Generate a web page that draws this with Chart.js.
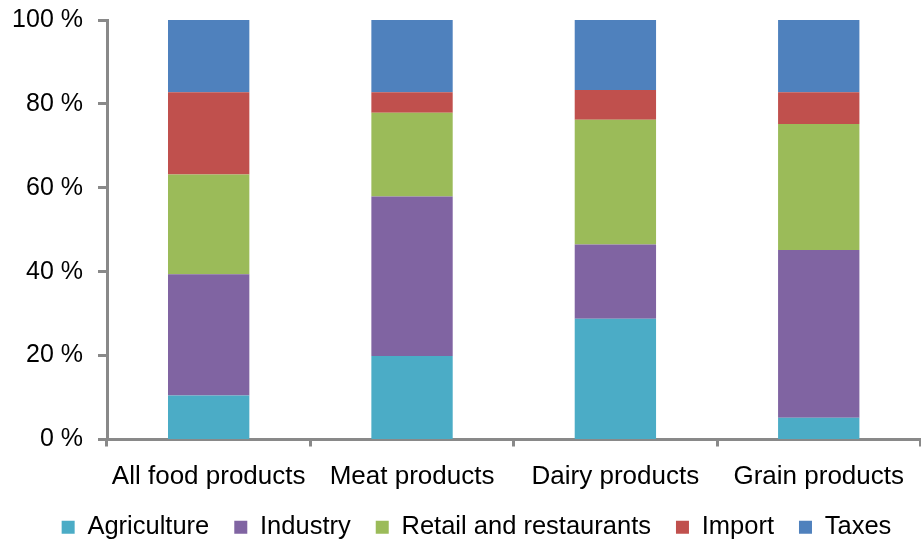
<!DOCTYPE html>
<html>
<head>
<meta charset="utf-8">
<script src="https://cdn.jsdelivr.net/npm/chart.js@4"></script>
<style>
  html, body { margin: 0; padding: 0; background: #fff; }
  #wrap { width: 921px; height: 546px; position: relative; }
</style>
</head>
<body>
<div id="wrap"><canvas id="costChart"></canvas></div>
<script>
// share of consumer price by link in the chain, percent
const categories = ["All food products", "Meat products", "Dairy products", "Grain products"];
const agriculture = [10.5, 19.9, 28.8, 5.2];
const industry = [28.9, 38.0, 17.7, 40.0];
const retail = [23.8, 20.0, 29.7, 30.0];
const importShare = [19.6, 4.9, 7.1, 7.6];
const taxes = [17.2, 17.2, 16.7, 17.2];
const yTicks = [0, 20, 40, 60, 80, 100];

const axisGrey = "#898989";
const family = "'Liberation Sans', Arial, sans-serif";
const font = { family: family, size: 25 };
const xFont = { family: family, size: 26, lineHeight: 1 };
const legendFont = { family: family, size: 25.5, lineHeight: 1 };

const series = [
  { label: "Agriculture", data: agriculture, color: "#4BACC6" },
  { label: "Industry", data: industry, color: "#8064A2" },
  { label: "Retail and restaurants", data: retail, color: "#9BBB59" },
  { label: "Import", data: importShare, color: "#C0504D" },
  { label: "Taxes", data: taxes, color: "#4F81BD" }
];

// nudge the legend row a little right of centre
const legendShift = {
  id: "legendShift",
  afterLayout(chart) {
    if (chart.legend) {
      chart.legend.left += 16;
      chart.legend.right += 16;
    }
  }
};

new Chart(document.getElementById("costChart"), {
  type: "bar",
  data: {
    labels: categories,
    datasets: series.map(s => ({
      label: s.label,
      data: s.data,
      backgroundColor: s.color,
      borderWidth: 0,
      barPercentage: 0.4,
      categoryPercentage: 1
    }))
  },
  plugins: [legendShift],
  options: {
    responsive: true,
    maintainAspectRatio: false,
    animation: false,
    layout: { padding: { left: 0, top: 20, right: 0, bottom: -4 } },
    plugins: {
      tooltip: { enabled: false },
      legend: {
        position: "bottom",
        labels: {
          color: "#000",
          font: legendFont,
          boxWidth: 13,
          boxHeight: 13,
          padding: 25
        }
      }
    },
    scales: {
      x: {
        stacked: true,
        border: { color: axisGrey, width: 3 },
        grid: {
          drawOnChartArea: false,
          drawTicks: true,
          tickLength: 7,
          tickWidth: 3,
          tickColor: axisGrey,
          offset: true
        },
        ticks: { color: "#000", font: xFont, padding: 17, maxRotation: 0, autoSkip: false },
        // fixed band for the category labels
        afterFit: (axis) => { axis.height = 50; }
      },
      y: {
        stacked: true,
        min: 0,
        max: 100,
        border: { color: axisGrey, width: 3 },
        grid: {
          drawOnChartArea: false,
          drawTicks: true,
          tickLength: 9,
          tickWidth: 3,
          tickColor: axisGrey
        },
        afterBuildTicks: (axis) => {
          axis.ticks = yTicks.map(v => ({ value: v }));
        },
        // fixed width, and let layout.padding.top decide where 100 % sits
        afterFit: (axis) => {
          axis.width = 107;
          axis.paddingTop = 0;
        },
        ticks: {
          color: "#000",
          font: font,
          padding: 15,
          callback: (v) => v + " %"
        }
      }
    }
  }
});
</script>
</body>
</html>
